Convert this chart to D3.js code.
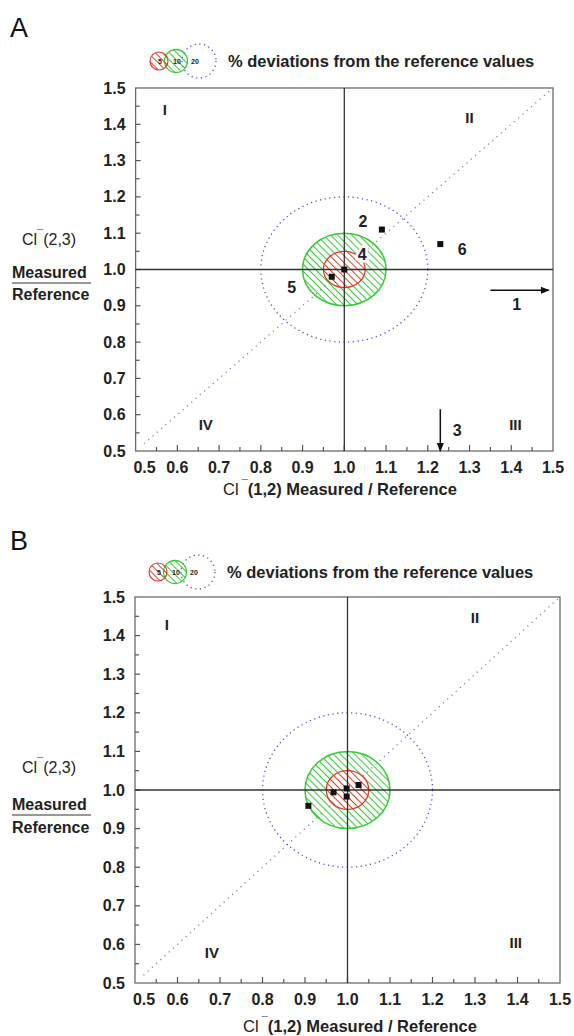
<!DOCTYPE html>
<html lang="en">
<head>
<meta charset="UTF-8">
<title>Cl- deviations from the reference values</title>
<script src="https://d3js.org/d3.v7.min.js"></script>
<style>
    body { margin: 0; background: white; }
    svg { display: block; font-family: "Liberation Sans", Arial, sans-serif; }
    .lbl { font-weight: bold; fill: #222; }
</style>
</head>
<body>
<svg width="574" height="1036"></svg>
<script>
// --- data ---
const tickValues = [0.5, 0.6, 0.7, 0.8, 0.9, 1.0, 1.1, 1.2, 1.3, 1.4, 1.5];
const tickLabels = ["0.5", "0.6", "0.7", "0.8", "0.9", "1.0", "1.1", "1.2", "1.3", "1.4", "1.5"];
const deviations = [5, 10, 20];          // % circles
const quadrantNames = ["I", "II", "III", "IV"];

const pointsA = [
    {id: "2", x: 1.09, y: 1.11},
    {id: "4", x: 1.00, y: 1.00},
    {id: "5", x: 0.97, y: 0.98},
    {id: "6", x: 1.23, y: 1.07}
];
// labs 1 and 3 fall off the scale, drawn as arrows
const offScaleA = [
    {id: "1", x0: 1.35, x1: 1.49, y0: 0.943, y1: 0.943},
    {id: "3", x0: 1.23, x1: 1.23, y0: 0.615, y1: 0.50}
];
const pointsB = [
    {id: "", x: 1.026, y: 1.013},
    {id: "", x: 0.967, y: 0.994},
    {id: "", x: 0.998, y: 1.004},
    {id: "", x: 0.998, y: 0.983},
    {id: "", x: 0.908, y: 0.959}
];
const offScaleB = [];

// --- layout ---
const panels = [
    {
        letter: "A", letterY: 37, points: pointsA, arrows: offScaleA,
        left: 135.6, right: 553, top: 88, bottom: 451,
        legendY: 61, legendX: 159,
        yTitleY: [245, 278, 300], xTitleX: 340, xTitleY: 495,
        quadPos: [[0.57, 1.44], [1.30, 1.42], [1.41, 0.574], [0.668, 0.572]],
        labelOffset: {"2": [-19, -9], "4": [18, -16], "5": [-40, 10], "6": [22, 5], "1": [-3, 14], "3": [17, 0]}
    },
    {
        letter: "B", letterY: 550, points: pointsB, arrows: offScaleB,
        left: 135, right: 560, top: 597, bottom: 983,
        legendY: 572, legendX: 158,
        yTitleY: [773, 810, 833], xTitleX: 360, xTitleY: 1032,
        quadPos: [[0.575, 1.43], [1.30, 1.446], [1.396, 0.604], [0.681, 0.58]],
        labelOffset: {}
    }
];

const red = "#e8382e", green = "#33cc33", blue = "#4a4ad8";

const svg = d3.select("svg");
const defs = svg.append("defs");

function hatch(id, color) {
    defs.append("pattern")
        .attr("id", id)
        .attr("patternUnits", "userSpaceOnUse")
        .attr("width", 5).attr("height", 5)
        .attr("patternTransform", "rotate(45)")
        .append("line")
        .attr("x1", 0).attr("y1", 2.5).attr("x2", 5).attr("y2", 2.5)
        .attr("stroke", color).attr("stroke-width", 1);
}
hatch("hatchGreen", green);
hatch("hatchRed", "#d04a2a");

defs.append("marker")
    .attr("id", "arrow")
    .attr("viewBox", "0 0 10 10")
    .attr("refX", 9).attr("refY", 5)
    .attr("markerWidth", 6).attr("markerHeight", 6)
    .attr("orient", "auto")
    .append("path")
    .attr("d", "M0,1 L10,5 L0,9 Z")
    .attr("fill", "#111");

function drawDeviationCircles(g, cx, cy, rx, ry) {
    // rx, ry: function(percent) -> radius in px
    g.append("ellipse")
        .attr("cx", cx).attr("cy", cy)
        .attr("rx", rx(20)).attr("ry", ry(20))
        .attr("fill", "none")
        .attr("stroke", blue).attr("stroke-width", 1.3)
        .attr("stroke-dasharray", "1.2,3.5");
    g.append("ellipse")
        .attr("cx", cx).attr("cy", cy)
        .attr("rx", rx(10)).attr("ry", ry(10))
        .attr("fill", "url(#hatchGreen)")
        .attr("stroke", green).attr("stroke-width", 1.5);
    g.append("ellipse")
        .attr("cx", cx).attr("cy", cy)
        .attr("rx", rx(5)).attr("ry", ry(5))
        .attr("fill", "white");
    g.append("ellipse")
        .attr("cx", cx).attr("cy", cy)
        .attr("rx", rx(5)).attr("ry", ry(5))
        .attr("fill", "url(#hatchRed)")
        .attr("stroke", red).attr("stroke-width", 1.3);
}

panels.forEach(p => {
    const x = d3.scaleLinear().domain([0.5, 1.5]).range([p.left, p.right]);
    const y = d3.scaleLinear().domain([0.5, 1.5]).range([p.bottom, p.top]);
    const g = svg.append("g");

    // panel letter
    g.append("text")
        .attr("x", 10).attr("y", p.letterY)
        .attr("font-size", 27).attr("fill", "#111")
        .text(p.letter);

    // legend
    const lg = g.append("g");
    const legendR = {5: 9, 10: 11.5, 20: 17};
    const legendCx = {5: p.legendX, 10: p.legendX + 17, 20: p.legendX + 40};
    lg.append("circle")
        .attr("cx", legendCx[20]).attr("cy", p.legendY).attr("r", legendR[20])
        .attr("fill", "none").attr("stroke", blue).attr("stroke-width", 1.3)
        .attr("stroke-dasharray", "1.2,3.5");
    lg.append("circle")
        .attr("cx", legendCx[10]).attr("cy", p.legendY).attr("r", legendR[10])
        .attr("fill", "url(#hatchGreen)").attr("stroke", green).attr("stroke-width", 1.3);
    lg.append("circle")
        .attr("cx", legendCx[5]).attr("cy", p.legendY).attr("r", legendR[5])
        .attr("fill", "url(#hatchRed)").attr("stroke", red).attr("stroke-width", 1.2);
    lg.selectAll("text.dev")
        .data(deviations)
        .join("text")
        .attr("class", "dev")
        .attr("x", d => d === 20 ? legendCx[20] - 4 : legendCx[d] + 1)
        .attr("y", p.legendY + 2.5)
        .attr("text-anchor", "middle")
        .attr("font-size", 7).attr("font-weight", "bold").attr("fill", "#222")
        .text(d => d);
    lg.append("text")
        .attr("class", "lbl")
        .attr("x", p.legendX + 69).attr("y", p.legendY + 6)
        .attr("font-size", 16.5)
        .text("% deviations from the reference values");

    // frame
    g.append("rect")
        .attr("x", p.left).attr("y", p.top)
        .attr("width", p.right - p.left).attr("height", p.bottom - p.top)
        .attr("fill", "none").attr("stroke", "#6a6a6a").attr("stroke-width", 1.3);

    // minor / major ticks, pointing inwards
    const allTicks = x.ticks(20);
    g.append("g").selectAll("line")
        .data(allTicks.slice(1, -1))
        .join("line")
        .attr("x1", d => x(d)).attr("x2", d => x(d))
        .attr("y1", p.bottom)
        .attr("y2", (d, i) => p.bottom - (i % 2 === 0 ? 4 : 6))
        .attr("stroke", "#555").attr("stroke-width", 1.2);
    g.append("g").selectAll("line")
        .data(allTicks.slice(1, -1))
        .join("line")
        .attr("y1", d => y(d)).attr("y2", d => y(d))
        .attr("x1", p.left)
        .attr("x2", (d, i) => p.left + (i % 2 === 0 ? 4 : 5))
        .attr("stroke", "#555").attr("stroke-width", 1.2);

    // tick labels
    g.append("g").selectAll("text")
        .data(tickValues)
        .join("text")
        .attr("class", "lbl")
        .attr("x", d => x(d) + (d === 0.5 ? 9 : 0))
        .attr("y", p.bottom + 22)
        .attr("text-anchor", "middle")
        .attr("font-size", 16)
        .text((d, i) => tickLabels[i]);
    g.append("g").selectAll("text")
        .data(tickValues)
        .join("text")
        .attr("class", "lbl")
        .attr("x", p.left - 10)
        .attr("y", d => y(d) + 5.5)
        .attr("text-anchor", "end")
        .attr("font-size", 16)
        .text((d, i) => tickLabels[i]);

    // diagonal y = x
    g.append("line")
        .attr("x1", x(0.52)).attr("y1", y(0.52))
        .attr("x2", x(1.5)).attr("y2", y(1.5))
        .attr("stroke", "#7c80b8").attr("stroke-width", 1.3)
        .attr("stroke-dasharray", "1.2,4.5");

    // deviation circles around 1,1
    drawDeviationCircles(g, x(1), y(1),
        d => x(1 + d / 100) - x(1),
        d => y(1) - y(1 + d / 100));

    // reference lines
    g.append("line")
        .attr("x1", x(1)).attr("x2", x(1)).attr("y1", p.top).attr("y2", p.bottom)
        .attr("stroke", "#333").attr("stroke-width", 1.3);
    g.append("line")
        .attr("x1", p.left).attr("x2", p.right).attr("y1", y(1)).attr("y2", y(1))
        .attr("stroke", "#333").attr("stroke-width", 1.3);

    // quadrant labels
    g.append("g").selectAll("text")
        .data(quadrantNames)
        .join("text")
        .attr("class", "lbl")
        .attr("x", (d, i) => x(p.quadPos[i][0]))
        .attr("y", (d, i) => y(p.quadPos[i][1]) + 5.5)
        .attr("text-anchor", "middle")
        .attr("font-size", 15)
        .text(d => d);

    // off-scale arrows
    g.append("g").selectAll("line")
        .data(p.arrows)
        .join("line")
        .attr("x1", d => x(d.x0)).attr("y1", d => y(d.y0))
        .attr("x2", d => x(d.x1)).attr("y2", d => y(d.y1))
        .attr("stroke", "#111").attr("stroke-width", 1.5)
        .attr("marker-end", "url(#arrow)");

    // points
    g.append("g").selectAll("rect")
        .data(p.points)
        .join("rect")
        .attr("x", d => x(d.x) - 3).attr("y", d => y(d.y) - 3)
        .attr("width", 6).attr("height", 6)
        .attr("fill", "#111");

    // point / arrow labels
    const labelled = p.points.concat(p.arrows.map(a => ({id: a.id, x: (a.x0 + a.x1) / 2, y: (a.y0 + a.y1) / 2})))
        .filter(d => p.labelOffset[d.id]);
    g.append("g").selectAll("text")
        .data(labelled)
        .join("text")
        .attr("class", "lbl")
        .attr("x", d => x(d.x) + p.labelOffset[d.id][0])
        .attr("y", d => y(d.y) + p.labelOffset[d.id][1] + 6)
        .attr("text-anchor", "middle")
        .attr("font-size", 16)
        .attr("stroke", "white").attr("stroke-width", 5)
        .attr("paint-order", "stroke")
        .text(d => d.id);

    // y title
    const yt = g.append("g").attr("font-size", 16);
    const cl = yt.append("text").attr("x", 22).attr("y", p.yTitleY[0]).attr("fill", "#222");
    cl.append("tspan").text("Cl");
    cl.append("tspan").attr("dy", -7).attr("font-size", 11).text("¯");
    cl.append("tspan").attr("dy", 7).text("(2,3)");
    yt.append("text").attr("class", "lbl")
        .attr("x", 12).attr("y", p.yTitleY[1]).text("Measured");
    yt.append("line")
        .attr("x1", 12).attr("x2", 91)
        .attr("y1", p.yTitleY[1] + 5).attr("y2", p.yTitleY[1] + 5)
        .attr("stroke", "#333").attr("stroke-width", 1.2);
    yt.append("text").attr("class", "lbl")
        .attr("x", 12).attr("y", p.yTitleY[2]).text("Reference");

    // x title
    const xt = g.append("text")
        .attr("x", p.xTitleX).attr("y", p.xTitleY)
        .attr("text-anchor", "middle")
        .attr("font-size", 16.5).attr("fill", "#222");
    xt.append("tspan").text("Cl");
    xt.append("tspan").attr("dy", -7).attr("font-size", 11).text(" ¯");
    xt.append("tspan").attr("dy", 7).attr("font-weight", "bold").text("(1,2) Measured / Reference");
});
</script>
</body>
</html>
